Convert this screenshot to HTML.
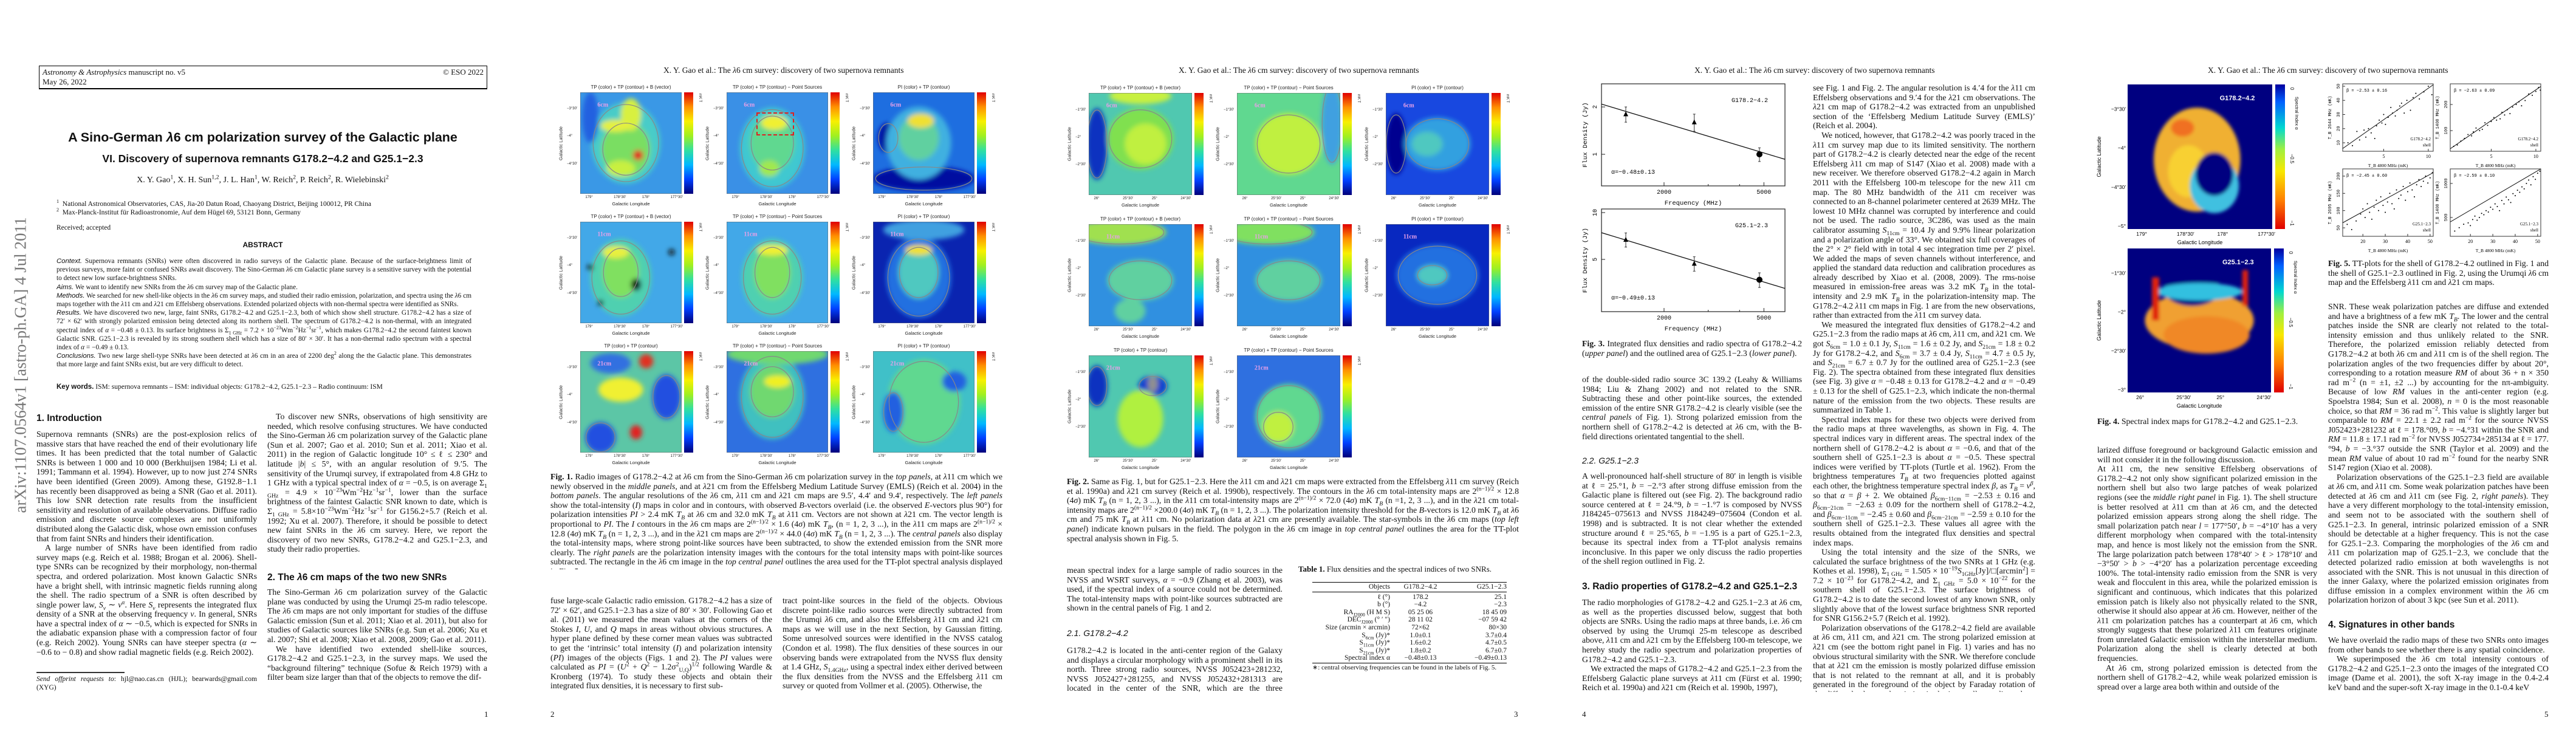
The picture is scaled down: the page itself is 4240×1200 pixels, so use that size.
<!DOCTYPE html>
<html><head><meta charset="utf-8">
<style>
*{margin:0;padding:0;box-sizing:border-box}
body{width:4240px;height:1200px;background:#fff;position:relative;overflow:hidden;font-family:"Liberation Serif",serif;color:#111}
.a{position:absolute}
.t{position:absolute;font-size:13.8px;line-height:15.6px;text-align:justify;overflow:hidden;hyphens:auto}
.t p{text-indent:0}
.t p+p{text-indent:14px}
.hdr{position:absolute;font-size:13.5px;white-space:nowrap}
.h1{position:absolute;font-family:"Liberation Sans",sans-serif;font-weight:bold;font-size:15.5px;white-space:nowrap}
.h2{position:absolute;font-family:"Liberation Sans",sans-serif;font-style:italic;font-size:14px;white-space:nowrap}
.pn{position:absolute;font-size:13px}
.sm{font-family:"Liberation Sans",sans-serif;font-size:8px;position:absolute;white-space:nowrap;color:#222}
.cap{position:absolute;font-size:13.8px;line-height:15.6px;text-align:justify;overflow:hidden}
.cb{position:absolute;background:linear-gradient(to top,#00007a,#0040ff,#00b8ff,#30e0a0,#a0f020,#f8f000,#ff9000,#e00000)}
i{font-style:italic}
sub,sup{font-size:70%;line-height:0}
</style></head><body>

<!-- ================= PAGE 1 ================= -->
<div class="a" style="left:0;top:0;width:860px;height:1200px">
<div class="a" style="left:34px;top:601px;transform:translate(-50%,-50%) rotate(-90deg);font-size:27px;color:#777;white-space:nowrap">arXiv:1107.0564v1 [astro-ph.GA] 4 Jul 2011</div>
<div class="a" style="left:64px;top:108px;width:738px;height:39px;border:1.5px solid #000;border-bottom-width:2.5px;font-size:13px;line-height:16px;padding:2px 5px">
<span><i>Astronomy &amp; Astrophysics</i> manuscript no. v5</span><span style="float:right">© ESO 2022</span><br>May 26, 2022</div>
<div class="a" style="left:60px;width:745px;top:214px;text-align:center;font-family:'Liberation Sans',sans-serif;font-weight:bold;font-size:21.5px;white-space:nowrap">A Sino-German <i>λ</i>6 cm polarization survey of the Galactic plane</div>
<div class="a" style="left:60px;width:745px;top:251px;text-align:center;font-family:'Liberation Sans',sans-serif;font-weight:bold;font-size:17.5px;white-space:nowrap">VI. Discovery of supernova remnants G178.2−4.2 and G25.1−2.3</div>
<div class="a" style="left:60px;width:745px;top:289px;text-align:center;font-size:14px;white-space:nowrap">X. Y. Gao<sup>1</sup>, X. H. Sun<sup>1,2</sup>, J. L. Han<sup>1</sup>, W. Reich<sup>2</sup>, P. Reich<sup>2</sup>, R. Wielebinski<sup>2</sup></div>
<div class="a" style="left:93px;top:329px;font-size:11.5px;line-height:14px;white-space:nowrap"><sup>1</sup>&nbsp; National Astronomical Observatories, CAS, Jia-20 Datun Road, Chaoyang District, Beijing 100012, PR China<br><sup>2</sup>&nbsp; Max-Planck-Institut für Radioastronomie, Auf dem Hügel 69, 53121 Bonn, Germany</div>
<div class="a" style="left:93px;top:369px;font-size:11.5px">Received; accepted</div>
<div class="a" style="left:60px;width:745px;top:396px;text-align:center;font-family:'Liberation Sans',sans-serif;font-weight:bold;font-size:12px">ABSTRACT</div>
<div class="t" style="left:93px;top:423px;width:683px;height:200px;font-size:11.3px;line-height:14.2px">
<div><i style="font-family:'Liberation Sans',sans-serif">Context.</i> Supernova remnants (SNRs) were often discovered in radio surveys of the Galactic plane. Because of the surface-brightness limit of previous surveys, more faint or confused SNRs await discovery. The Sino-German <i>λ</i>6 cm Galactic plane survey is a sensitive survey with the potential to detect new low surface-brightness SNRs.</div>
<div><i style="font-family:'Liberation Sans',sans-serif">Aims.</i> We want to identify new SNRs from the <i>λ</i>6 cm survey map of the Galactic plane.</div>
<div><i style="font-family:'Liberation Sans',sans-serif">Methods.</i> We searched for new shell-like objects in the <i>λ</i>6 cm survey maps, and studied their radio emission, polarization, and spectra using the <i>λ</i>6 cm maps together with the <i>λ</i>11 cm and <i>λ</i>21 cm Effelsberg observations. Extended polarized objects with non-thermal spectra were identified as SNRs.</div>
<div><i style="font-family:'Liberation Sans',sans-serif">Results.</i> We have discovered two new, large, faint SNRs, G178.2−4.2 and G25.1−2.3, both of which show shell structure. G178.2−4.2 has a size of 72′ × 62′ with strongly polarized emission being detected along its northern shell. The spectrum of G178.2−4.2 is non-thermal, with an integrated spectral index of <i>α</i> = −0.48 ± 0.13. Its surface brightness is Σ<sub>1 GHz</sub> = 7.2 × 10<sup>−23</sup>Wm<sup>−2</sup>Hz<sup>−1</sup>sr<sup>−1</sup>, which makes G178.2−4.2 the second faintest known Galactic SNR. G25.1−2.3 is revealed by its strong southern shell which has a size of 80′ × 30′. It has a non-thermal radio spectrum with a spectral index of <i>α</i> = −0.49 ± 0.13.</div>
<div><i style="font-family:'Liberation Sans',sans-serif">Conclusions.</i> Two new large shell-type SNRs have been detected at <i>λ</i>6 cm in an area of 2200 deg<sup>2</sup> along the the Galactic plane. This demonstrates that more large and faint SNRs exist, but are very difficult to detect.</div></div>
<div class="a" style="left:93px;top:631px;font-size:11.5px;white-space:nowrap"><b style="font-family:'Liberation Sans',sans-serif">Key words.</b> ISM: supernova remnants – ISM: individual objects: G178.2−4.2, G25.1−2.3 – Radio continuum: ISM</div>
<div class="h1" style="left:60px;top:680px">1. Introduction</div>
<div class="t" style="left:60px;top:707px;width:363px;height:391px">
<p>Supernova remnants (SNRs) are the post-explosion relics of massive stars that have reached the end of their evolutionary life times. It has been predicted that the total number of Galactic SNRs is between 1 000 and 10 000 (Berkhuijsen 1984; Li et al. 1991; Tammann et al. 1994). However, up to now just 274 SNRs have been identified (Green 2009). Among these, G192.8−1.1 has recently been disapproved as being a SNR (Gao et al. 2011). This low SNR detection rate results from the insufficient sensitivity and resolution of available observations. Diffuse radio emission and discrete source complexes are not uniformly distributed along the Galactic disk, whose own emission confuses that from faint SNRs and hinders their identification.</p>
<p>A large number of SNRs have been identified from radio survey maps (e.g. Reich et al. 1988; Brogan et al. 2006). Shell-type SNRs can be recognized by their morphology, non-thermal spectra, and ordered polarization. Most known Galactic SNRs have a bright shell, with intrinsic magnetic fields running along the shell. The radio spectrum of a SNR is often described by single power law, <i>S<sub>ν</sub></i> ∼ <i>ν<sup>α</sup></i>. Here <i>S<sub>ν</sub></i> represents the integrated flux density of a SNR at the observing frequency <i>ν</i>. In general, SNRs have a spectral index of <i>α</i> ∼ −0.5, which is expected for SNRs in the adiabatic expansion phase with a compression factor of four (e.g. Reich 2002). Young SNRs can have steeper spectra (<i>α</i> ∼ −0.6 to − 0.8) and show radial magnetic fields (e.g. Reich 2002).</p></div>
<div class="a" style="left:60px;top:1106px;width:145px;height:1.5px;background:#333"></div>
<div class="t" style="left:60px;top:1111px;width:363px;height:32px;font-size:11.5px;line-height:14px"><i>Send offprint requests to</i>: hjl@nao.cas.cn (HJL); bearwards@gmail.com (XYG)</div>
<div class="t" style="left:440px;top:678px;width:362px;height:250px">
<p style="text-indent:14px">To discover new SNRs, observations of high sensitivity are needed, which resolve confusing structures. We have conducted the Sino-German <i>λ</i>6 cm polarization survey of the Galactic plane (Sun et al. 2007; Gao et al. 2010; Sun et al. 2011; Xiao et al. 2011) in the region of Galactic longitude 10° ≤ ℓ ≤ 230° and latitude |<i>b</i>| ≤ 5°, with an angular resolution of 9.′5. The sensitivity of the Urumqi survey, if extrapolated from 4.8 GHz to 1 GHz with a typical spectral index of <i>α</i> = −0.5, is on average Σ<sub>1 GHz</sub> = 4.9 × 10<sup>−23</sup>Wm<sup>−2</sup>Hz<sup>−1</sup>sr<sup>−1</sup>, lower than the surface brightness of the faintest Galactic SNR known to date, which is Σ<sub>1 GHz</sub> = 5.8×10<sup>−23</sup>Wm<sup>−2</sup>Hz<sup>−1</sup>sr<sup>−1</sup> for G156.2+5.7 (Reich et al. 1992; Xu et al. 2007). Therefore, it should be possible to detect new faint SNRs in the <i>λ</i>6 cm survey. Here, we report the discovery of two new SNRs, G178.2−4.2 and G25.1−2.3, and study their radio properties.</p></div>
<div class="h1" style="left:440px;top:942px">2. The <i>λ</i>6 cm maps of the two new SNRs</div>
<div class="t" style="left:440px;top:967px;width:362px;height:172px">
<p>The Sino-German <i>λ</i>6 cm polarization survey of the Galactic plane was conducted by using the Urumqi 25-m radio telescope. The <i>λ</i>6 cm maps are not only important for studies of the diffuse Galactic emission (Sun et al. 2011; Xiao et al. 2011), but also for studies of Galactic sources like SNRs (e.g. Sun et al. 2006; Xu et al. 2007; Shi et al. 2008; Xiao et al. 2008, 2009; Gao et al. 2011).</p>
<p>We have identified two extended shell-like sources, G178.2−4.2 and G25.1−2.3, in the survey maps. We used the “background filtering” technique (Sofue &amp; Reich 1979) with a filter beam size larger than that of the objects to remove the dif-</p></div>
<div class="pn" style="left:797px;top:1168px">1</div>
</div>

<!-- ================= PAGE 2 ================= -->
<div class="hdr" style="left:1092px;top:108px">X. Y. Gao et al.: The <i>λ</i>6 cm survey: discovery of two supernova remnants</div>
<div class="cap" style="left:906px;top:777px;width:744px;height:160px"><b>Fig. 1.</b> Radio images of G178.2−4.2 at <i>λ</i>6 cm from the Sino-German <i>λ</i>6 cm polarization survey in the <i>top panels</i>, at <i>λ</i>11 cm which we newly observed in the <i>middle panels</i>, and at <i>λ</i>21 cm from the Effelsberg Medium Latitude Survey (EMLS) (Reich et al. 2004) in the <i>bottom panels</i>. The angular resolutions of the <i>λ</i>6 cm, <i>λ</i>11 cm and <i>λ</i>21 cm maps are 9.5′, 4.4′ and 9.4′, respectively. The <i>left panels</i> show the total-intensity (<i>I</i>) maps in color and in contours, with observed <i>B</i>-vectors overlaid (i.e. the observed <i>E</i>-vectors plus 90°) for polarization intensities <i>PI</i> &gt; 2.4 mK <i>T<sub>B</sub></i> at <i>λ</i>6 cm and 32.0 mK <i>T<sub>B</sub></i> at <i>λ</i>11 cm. Vectors are not shown at <i>λ</i>21 cm. The vector length is proportional to <i>PI</i>. The <i>I</i> contours in the <i>λ</i>6 cm maps are 2<sup>(n−1)/2</sup> × 1.6 (4<i>σ</i>) mK <i>T<sub>B</sub></i>, (n = 1, 2, 3 ...), in the <i>λ</i>11 cm maps are 2<sup>(n−1)/2</sup> × 12.8 (4<i>σ</i>) mK <i>T<sub>B</sub></i> (n = 1, 2, 3 ...), and in the <i>λ</i>21 cm maps are 2<sup>(n−1)/2</sup> × 44.0 (4<i>σ</i>) mK <i>T<sub>B</sub></i> (n = 1, 2, 3 ...). The <i>central panels</i> also display the total-intensity maps, where strong point-like sources have been subtracted, to show the extended emission from the SNR more clearly. The <i>right panels</i> are the polarization intensity images with the contours for the total intensity maps with point-like sources subtracted. The rectangle in the <i>λ</i>6 cm image in the <i>top central panel</i> outlines the area used for the TT-plot spectral analysis displayed in Fig. 5.</div>
<div class="t" style="left:906px;top:981px;width:365px;height:157px">fuse large-scale Galactic radio emission. G178.2−4.2 has a size of 72′ × 62′, and G25.1−2.3 has a size of 80′ × 30′. Following Gao et al. (2011) we measured the mean values at the corners of the Stokes <i>I</i>, <i>U</i>, and <i>Q</i> maps in areas without obvious structures. A hyper plane defined by these corner mean values was subtracted to get the ‘intrinsic’ total intensity (<i>I</i>) and polarization intensity (<i>PI</i>) images of the objects (Figs. 1 and 2). The <i>PI</i> values were calculated as <i>PI</i> = (<i>U</i><sup>2</sup> + <i>Q</i><sup>2</sup> − 1.2σ<sup>2</sup><sub>U,Q</sub>)<sup>1/2</sup> following Wardle &amp; Kronberg (1974). To study these objects and obtain their integrated flux densities, it is necessary to first sub-</div>
<div class="t" style="left:1288px;top:981px;width:362px;height:157px">tract point-like sources in the field of the objects. Obvious discrete point-like radio sources were directly subtracted from the Urumqi <i>λ</i>6 cm, and also the Effelsberg <i>λ</i>11 cm and <i>λ</i>21 cm maps as we will use in the next Section, by Gaussian fitting. Some unresolved sources were identified in the NVSS catalog (Condon et al. 1998). The flux densities of these sources in our observing bands were extrapolated from the NVSS flux density at 1.4 GHz, <i>S</i><sub>1.4GHz</sub>, using a spectral index either derived between the flux densities from the NVSS and the Effelsberg <i>λ</i>11 cm survey or quoted from Vollmer et al. (2005). Otherwise, the</div>
<div class="pn" style="left:906px;top:1168px">2</div>

<!-- ================= PAGE 3 ================= -->
<div class="hdr" style="left:1940px;top:108px">X. Y. Gao et al.: The <i>λ</i>6 cm survey: discovery of two supernova remnants</div>
<div class="cap" style="left:1756px;top:785px;width:744px;height:112px"><b>Fig. 2.</b> Same as Fig. 1, but for G25.1−2.3. Here the <i>λ</i>11 cm and <i>λ</i>21 cm maps were extracted from the Effelsberg <i>λ</i>11 cm survey (Reich et al. 1990a) and <i>λ</i>21 cm survey (Reich et al. 1990b), respectively. The contours in the <i>λ</i>6 cm total-intensity maps are 2<sup>(n−1)/2</sup> × 12.8 (4<i>σ</i>) mK <i>T<sub>B</sub></i> (n = 1, 2, 3 ...), in the <i>λ</i>11 cm total-intensity maps are 2<sup>(n−1)/2</sup> × 72.0 (4<i>σ</i>) mK <i>T<sub>B</sub></i> (n =1, 2, 3 ...), and in the <i>λ</i>21 cm total-intensity maps are 2<sup>(n−1)/2</sup> ×200.0 (4<i>σ</i>) mK <i>T<sub>B</sub></i> (n = 1, 2, 3 ...). The polarization intensity threshold for the <i>B</i>-vectors is 12.0 mK <i>T<sub>B</sub></i> at <i>λ</i>6 cm and 75 mK <i>T<sub>B</sub></i> at <i>λ</i>11 cm. No polarization data at <i>λ</i>21 cm are presently available. The star-symbols in the <i>λ</i>6 cm maps (<i>top left panel</i>) indicate known pulsars in the field. The polygon in the <i>λ</i>6 cm image in <i>top central panel</i> outlines the area for the TT-plot spectral analysis shown in Fig. 5.</div>
<div class="t" style="left:1756px;top:931px;width:355px;height:80px">mean spectral index for a large sample of radio sources in the NVSS and WSRT surveys, <i>α</i> = −0.9 (Zhang et al. 2003), was used, if the spectral index of a source could not be determined. The total-intensity maps with point-like sources subtracted are shown in the central panels of Fig. 1 and 2.</div>
<div class="h2" style="left:1756px;top:1034px">2.1. G178.2−4.2</div>
<div class="t" style="left:1756px;top:1063px;width:355px;height:78px">G178.2−4.2 is located in the anti-center region of the Galaxy and displays a circular morphology with a prominent shell in its north. Three strong radio sources, NVSS J052423+281232, NVSS J052427+281255, and NVSS J052432+281313 are located in the center of the SNR, which are the three components</div>
<div class="a" style="left:2137px;top:929px;font-size:13px;white-space:nowrap"><b>Table 1.</b> Flux densities and the spectral indices of two SNRs.</div>
<div class="a" style="left:2160px;top:958px;width:320px;font-size:11.5px;line-height:12.6px">
<div style="border-top:1.5px solid #000;border-bottom:1px solid #000;margin-bottom:2px;padding:1px 0">
<div style="display:flex"><span style="width:128px;text-align:right">Objects</span><span style="width:100px;text-align:center">G178.2−4.2</span><span style="width:92px;text-align:right">G25.1−2.3</span></div></div>
<div id="tbody"></div>
<div style="border-top:1.5px solid #000;margin-top:1px;font-size:11px;line-height:13px;padding-top:1px">∗: central observing frequencies can be found in the labels of Fig. 5.</div></div>
<div class="pn" style="left:2492px;top:1168px">3</div>

<!-- ================= PAGE 4 ================= -->
<div class="hdr" style="left:2789px;top:108px">X. Y. Gao et al.: The <i>λ</i>6 cm survey: discovery of two supernova remnants</div>
<svg class="a" id="fig3" style="left:2600px;top:125px" width="360" height="430"></svg>
<div class="cap" style="left:2604px;top:558px;width:362px;height:34px"><b>Fig. 3.</b> Integrated flux densities and radio spectra of G178.2−4.2 (<i>upper panel</i>) and the outlined area of G25.1−2.3 (<i>lower panel</i>).</div>
<div class="t" style="left:2604px;top:617px;width:362px;height:126px">of the double-sided radio source 3C 139.2 (Leahy &amp; Williams 1984; Liu &amp; Zhang 2002) and not related to the SNR. Subtracting these and other point-like sources, the extended emission of the entire SNR G178.2−4.2 is clearly visible (see the <i>central panels</i> of Fig. 1). Strong polarized emission from the northern shell of G178.2−4.2 is detected at <i>λ</i>6 cm, with the B-field directions orientated tangential to the shell.</div>
<div class="h2" style="left:2604px;top:750px">2.2. G25.1−2.3</div>
<div class="t" style="left:2604px;top:776px;width:362px;height:158px">A well-pronounced half-shell structure of 80′ in length is visible at ℓ = 25.°1, <i>b</i> = −2.°3 after strong diffuse emission from the Galactic plane is filtered out (see Fig. 2). The background radio source centered at ℓ = 24.°9, <i>b</i> = −1.°7 is composed by NVSS J184245−075613 and NVSS J184249−075604 (Condon et al. 1998) and is subtracted. It is not clear whether the extended structure around ℓ = 25.°65, <i>b</i> = −1.95 is a part of G25.1−2.3, because its spectral index from a TT-plot analysis remains inconclusive. In this paper we only discuss the radio properties of the shell region outlined in Fig. 2.</div>
<div class="h1" style="left:2604px;top:957px">3. Radio properties of G178.2−4.2 and G25.1−2.3</div>
<div class="t" style="left:2604px;top:984px;width:362px;height:156px"><p>The radio morphologies of G178.2−4.2 and G25.1−2.3 at <i>λ</i>6 cm, as well as the properties discussed below, suggest that both objects are SNRs. Using the radio maps at three bands, i.e. <i>λ</i>6 cm observed by using the Urumqi 25-m telescope as described above, <i>λ</i>11 cm and <i>λ</i>21 cm by the Effelsberg 100-m telescope, we hereby study the radio spectrum and polarization properties of G178.2−4.2 and G25.1−2.3.</p><p>We extracted the maps of G178.2−4.2 and G25.1−2.3 from the Effelsberg Galactic plane surveys at <i>λ</i>11 cm (Fürst et al. 1990; Reich et al. 1990a) and <i>λ</i>21 cm (Reich et al. 1990b, 1997),</p></div>
<div class="t" style="left:2984px;top:137px;width:366px;height:1002px">
<p>see Fig. 1 and Fig. 2. The angular resolution is 4.′4 for the <i>λ</i>11 cm Effelsberg observations and 9.′4 for the <i>λ</i>21 cm observations. The <i>λ</i>21 cm map of G178.2−4.2 was extracted from an unpublished section of the ‘Effelsberg Medium Latitude Survey (EMLS)’ (Reich et al. 2004).</p>
<p>We noticed, however, that G178.2−4.2 was poorly traced in the <i>λ</i>11 cm survey map due to its limited sensitivity. The northern part of G178.2−4.2 is clearly detected near the edge of the recent Effelsberg <i>λ</i>11 cm map of S147 (Xiao et al. 2008) made with a new receiver. We therefore observed G178.2−4.2 again in March 2011 with the Effelsberg 100-m telescope for the new <i>λ</i>11 cm map. The 80 MHz bandwidth of the <i>λ</i>11 cm receiver was connected to an 8-channel polarimeter centered at 2639 MHz. The lowest 10 MHz channel was corrupted by interference and could not be used. The radio source, 3C286, was used as the main calibrator assuming <i>S</i><sub>11cm</sub> = 10.4 Jy and 9.9% linear polarization and a polarization angle of 33°. We obtained six full coverages of the 2° × 2° field with in total 4 sec integration time per 2′ pixel. We added the maps of seven channels without interference, and applied the standard data reduction and calibration procedures as already described by Xiao et al. (2008, 2009). The rms-noise measured in emission-free areas was 3.2 mK <i>T<sub>B</sub></i> in the total-intensity and 2.9 mK <i>T<sub>B</sub></i> in the polarization-intensity map. The G178.2−4.2 <i>λ</i>11 cm maps in Fig. 1 are from the new observations, rather than extracted from the <i>λ</i>11 cm survey data.</p>
<p>We measured the integrated flux densities of G178.2−4.2 and G25.1−2.3 from the radio maps at <i>λ</i>6 cm, <i>λ</i>11 cm, and <i>λ</i>21 cm. We got <i>S</i><sub>6cm</sub> = 1.0 ± 0.1 Jy, <i>S</i><sub>11cm</sub> = 1.6 ± 0.2 Jy, and <i>S</i><sub>21cm</sub> = 1.8 ± 0.2 Jy for G178.2−4.2, and <i>S</i><sub>6cm</sub> = 3.7 ± 0.4 Jy, <i>S</i><sub>11cm</sub> = 4.7 ± 0.5 Jy, and <i>S</i><sub>21cm</sub> = 6.7 ± 0.7 Jy for the outlined area of G25.1−2.3 (see Fig. 2). The spectra obtained from these integrated flux densities (see Fig. 3) give <i>α</i> = −0.48 ± 0.13 for G178.2−4.2 and <i>α</i> = −0.49 ± 0.13 for the shell of G25.1−2.3, which indicate the non-thermal nature of the emission from the two objects. These results are summarized in Table 1.</p>
<p>Spectral index maps for these two objects were derived from the radio maps at three wavelengths, as shown in Fig. 4. The spectral indices vary in different areas. The spectral index of the northern shell of G178.2−4.2 is about <i>α</i> = −0.6, and that of the southern shell of G25.1−2.3 is about <i>α</i> = −0.5. These spectral indices were verified by TT-plots (Turtle et al. 1962). From the brightness temperatures <i>T<sub>B</sub></i> at two frequencies plotted against each other, the brightness temperature spectral index <i>β</i>, as <i>T<sub>B</sub></i> = <i>ν<sup>β</sup></i>, so that <i>α</i> = <i>β</i> + 2. We obtained <i>β</i><sub>6cm−11cm</sub> = −2.53 ± 0.16 and <i>β</i><sub>6cm−21cm</sub> = −2.63 ± 0.09 for the northern shell of G178.2−4.2, and <i>β</i><sub>6cm−11cm</sub> = −2.45 ± 0.60 and <i>β</i><sub>6cm−21cm</sub> = −2.59 ± 0.10 for the southern shell of G25.1−2.3. These values all agree with the results obtained from the integrated flux densities and spectral index maps.</p>
<p>Using the total intensity and the size of the SNRs, we calculated the surface brightness of the two SNRs at 1 GHz (e.g. Kothes et al. 1998), Σ<sub>1 GHz</sub> = 1.505 × 10<sup>−19</sup><i>S</i><sub>1GHz</sub>[Jy]/□[arcmin<sup>2</sup>] = 7.2 × 10<sup>−23</sup> for G178.2−4.2, and Σ<sub>1 GHz</sub> = 5.0 × 10<sup>−22</sup> for the southern shell of G25.1−2.3. The surface brightness of G178.2−4.2 is to date the second lowest of any known SNR, only slightly above that of the lowest surface brightness SNR reported for SNR G156.2+5.7 (Reich et al. 1992).</p>
<p>Polarization observations of the G178.2−4.2 field are available at <i>λ</i>6 cm, <i>λ</i>11 cm, and <i>λ</i>21 cm. The strong polarized emission at <i>λ</i>21 cm (see the bottom right panel in Fig. 1) varies and has no obvious structural similarity with the SNR. We therefore conclude that at <i>λ</i>21 cm the emission is mostly polarized diffuse emission that is not related to the remnant at all, and it is probably generated in the foreground of the object by Faraday rotation of the diffuse background emission in the interstellar medium along the line of sight towards the anti-center region of the Galaxy.</p></div>
<div class="pn" style="left:2604px;top:1168px">4</div>

<!-- ================= PAGE 5 ================= -->
<div class="hdr" style="left:3634px;top:108px">X. Y. Gao et al.: The <i>λ</i>6 cm survey: discovery of two supernova remnants</div>
<svg class="a" id="fig4" style="left:3440px;top:125px" width="380" height="560"></svg>
<div class="cap" style="left:3452px;top:686px;width:380px;height:18px;white-space:nowrap"><b>Fig. 4.</b> Spectral index maps for G178.2−4.2 and G25.1−2.3.</div>
<svg class="a" id="fig5" style="left:3820px;top:128px" width="380" height="290"></svg>
<div class="cap" style="left:3832px;top:426px;width:363px;height:50px"><b>Fig. 5.</b> TT-plots for the shell of G178.2−4.2 outlined in Fig. 1 and the shell of G25.1−2.3 outlined in Fig. 2, using the Urumqi <i>λ</i>6 cm map and the Effelsberg <i>λ</i>11 cm and <i>λ</i>21 cm maps.</div>
<div class="t" style="left:3832px;top:497px;width:363px;height:505px">
<p>SNR. These weak polarization patches are diffuse and extended and have a brightness of a few mK <i>T<sub>B</sub></i>. The lower and the central patches inside the SNR are clearly not related to the total-intensity emission and thus unlikely related to the SNR. Therefore, the polarized emission reliably detected from G178.2−4.2 at both <i>λ</i>6 cm and <i>λ</i>11 cm is of the shell region. The polarization angles of the two frequencies differ by about 20°, corresponding to a rotation measure <i>RM</i> of about 36 + n × 350 rad m<sup>−2</sup> (n = ±1, ±2 ...) by accounting for the nπ-ambiguity. Because of low <i>RM</i> values in the anti-center region (e.g. Spoelstra 1984; Sun et al. 2008), <i>n</i> = 0 is the most reasonable choice, so that <i>RM</i> = 36 rad m<sup>−2</sup>. This value is slightly larger but comparable to <i>RM</i> = 22.1 ± 2.2 rad m<sup>−2</sup> for the source NVSS J052423+281232 at ℓ = 178.°09, <i>b</i> = −4.°31 within the SNR and <i>RM</i> = 11.8 ± 17.1 rad m<sup>−2</sup> for NVSS J052734+285134 at ℓ = 177.°94, <i>b</i> = −3.°37 outside the SNR (Taylor et al. 2009) and the mean <i>RM</i> value of about 10 rad m<sup>−2</sup> found for the nearby SNR S147 region (Xiao et al. 2008).</p>
<p>Polarization observations of the G25.1−2.3 field are available at <i>λ</i>6 cm, and <i>λ</i>11 cm. Some weak polarization patches have been detected at <i>λ</i>6 cm and <i>λ</i>11 cm (see Fig. 2, <i>right panels</i>). They have a very different morphology to the total-intensity emission, and seem not to be associated with the southern shell of G25.1−2.3. In general, intrinsic polarized emission of a SNR should be detectable at a higher frequency. This is not the case for G25.1−2.3. Comparing the morphologies of the <i>λ</i>6 cm and <i>λ</i>11 cm polarization map of G25.1−2.3, we conclude that the detected polarized radio emission at both wavelengths is not associated with the SNR. This is not unusual in this direction of the inner Galaxy, where the polarized emission originates from diffuse emission in a complex environment within the <i>λ</i>6 cm polarization horizon of about 3 kpc (see Sun et al. 2011).</p></div>
<div class="h1" style="left:3832px;top:1020px">4. Signatures in other bands</div>
<div class="t" style="left:3832px;top:1046px;width:363px;height:95px"><p>We have overlaid the radio maps of these two SNRs onto images from other bands to see whether there is any spatial coincidence.</p><p>We superimposed the <i>λ</i>6 cm total intensity contours of G178.2−4.2 and G25.1−2.3 onto the images of the integrated CO image (Dame et al. 2001), the soft X-ray image in the 0.4-2.4 keV band and the super-soft X-ray image in the 0.1-0.4 keV</p></div>
<div class="t" style="left:3452px;top:733px;width:362px;height:408px">larized diffuse foreground or background Galactic emission and will not consider it in the following discussion.
<p>At <i>λ</i>11 cm, the new sensitive Effelsberg observations of G178.2−4.2 not only show significant polarized emission in the northern shell but also two large patches of weak polarized regions (see the <i>middle right panel</i> in Fig. 1). The shell structure is better resolved at <i>λ</i>11 cm than at <i>λ</i>6 cm, and the detected polarized emission appears strong along the shell ridge. The small polarization patch near <i>l</i> = 177°50′, <i>b</i> = −4°10′ has a very different morphology when compared with the total-intensity map, and hence is most likely not the emission from the SNR. The large polarization patch between 178°40′ &gt; ℓ &gt; 178°10′ and −3°50′ &gt; <i>b</i> &gt; −4°20′ has a polarization percentage exceeding 100%. The total-intensity radio emission from the SNR is very weak and flocculent in this area, while the polarized emission is significant and continuous, which indicates that this polarized emission patch is likely also not physically related to the SNR, otherwise it should also appear at <i>λ</i>6 cm. However, neither of the <i>λ</i>11 cm polarization patches has a counterpart at <i>λ</i>6 cm, which strongly suggests that these polarized <i>λ</i>11 cm features originate from unrelated Galactic emission within the interstellar medium. Polarization along the shell is clearly detected at both frequencies.</p>
<p>At <i>λ</i>6 cm, strong polarized emission is detected from the northern shell of G178.2−4.2, while weak polarized emission is spread over a large area both within and outside of the</p></div>
<div class="pn" style="left:4188px;top:1168px">5</div>

<div id="maps"></div>

<script>
const NS='http://www.w3.org/2000/svg';
function el(tag,attrs,parent){const e=document.createElementNS(NS,tag);for(const k in attrs)e.setAttribute(k,attrs[k]);if(parent)parent.appendChild(e);return e;}

/* ---------- Table 1 ---------- */
const tabLabels=['ℓ (°)','b (°)','RA<sub>J2000</sub> (H M S)','DEC<sub>J2000</sub> (° ′ ″)','Size (arcmin × arcmin)','S<sub>6cm</sub> (Jy)*','S<sub>11cm</sub> (Jy)*','S<sub>21cm</sub> (Jy)*','Spectral index α'];
const tabG178=['178.2','−4.2','05 25 06','28 11 02','72×62','1.0±0.1','1.6±0.2','1.8±0.2','−0.48±0.13'];
const tabG25=['25.1','−2.3','18 45 09','−07 59 42','80×30','3.7±0.4','4.7±0.5','6.7±0.7','−0.49±0.13'];
const tb=document.getElementById('tbody');
tabLabels.forEach((l,i)=>{const r=document.createElement('div');r.style.display='flex';


r.innerHTML='<span style="width:128px;text-align:right">'+l+'</span><span style="width:100px;text-align:center">'+tabG178[i]+'</span><span style="width:92px;text-align:right">'+tabG25[i]+'</span>';tb.appendChild(r);});

/* ---------- Radio map panels (Fig 1, Fig 2) ---------- */
const fig1Titles=['TP (color) + TP (contour) + B (vector)','TP (color) + TP (contour) − Point Sources','PI (color) + TP (contour)'];
const fig1Bands=['6cm','11cm','21cm'];
const fig1Bg=[['#3a98e6','#3a90e6','#1e6ee0'],['#42a8e8','#42a8e8','#0a24b0'],['#5cc6a6','#2f70e0','#40c0c8']];
const fig1Blobs=[
[[[.45,.5,.34,.4,'#48ccc8'],[.45,.56,.24,.27,'#7ade62'],[.5,.22,.1,.16,'#d8f040'],[.35,.33,.15,.06,'#e4f040'],[.4,.75,.14,.08,'#c8f040'],[.57,.62,.05,.05,'#e02020'],[.1,.25,.08,.25,'#2060e0']],
 [[.45,.55,.32,.4,'#40c8d0'],[.45,.5,.22,.28,'#60d890'],[.47,.3,.13,.07,'#f0f030'],[.42,.75,.1,.08,'#a0e850']],
 [[.5,.85,.5,.12,'#0010a0'],[.15,.45,.1,.15,'#0010a0'],[.45,.5,.32,.36,'#40b0e0'],[.45,.45,.2,.22,'#60d0a0'],[.47,.28,.13,.07,'#f0e030']]],
[[[.4,.55,.3,.38,'#50d0b0'],[.4,.5,.18,.25,'#80e060'],[.35,.3,.13,.06,'#e8f040'],[.55,.62,.05,.06,'#111'],[.1,.45,.03,.03,'#111'],[.9,.3,.03,.03,'#111'],[.2,.8,.03,.03,'#111']],
 [[.45,.55,.3,.38,'#50d0b0'],[.45,.5,.18,.26,'#80e060'],[.45,.28,.15,.05,'#f0f030']],
 [[.45,.55,.32,.4,'#2070e0'],[.45,.5,.2,.26,'#50c8c0'],[.45,.28,.13,.05,'#f0e030'],[.5,.08,.4,.1,'#40a0e0']]],
[[[.2,.85,.15,.15,'#2050e0'],[.85,.45,.14,.22,'#2050e0'],[.3,.12,.2,.1,'#3070e0'],[.4,.38,.22,.12,'#f0f030'],[.55,.8,.06,.07,'#e02020'],[.65,.1,.07,.07,'#e03020']],
 [[.45,.45,.32,.42,'#40c0c0'],[.45,.4,.22,.26,'#70d870'],[.5,.3,.13,.06,'#f0f020'],[.5,.03,.5,.1,'#70d870']],
 [[.5,.5,.36,.42,'#60d890'],[.2,.6,.1,.2,'#2060e0'],[.8,.3,.12,.1,'#2060e0']]]];
const fig2Bg=[['#50c8b0','#60d890','#1848e0'],['#3090e0','#3090e0','#0828c0'],['#50c8b0','#2f70e0']];
const fig2Blobs=[
[[[.08,.5,.1,.35,'#1030c0'],[.5,.45,.32,.3,'#80e050'],[.55,.5,.2,.2,'#c0f040'],[.5,.03,.3,.08,'#c8f040']],
 [[.5,.5,.32,.3,'#c0f040'],[.92,.3,.1,.4,'#40a0e0']],
 [[.1,.5,.1,.3,'#000090'],[.5,.5,.32,.26,'#30a0e0'],[.4,.5,.15,.12,'#50c8c0']]],
[[[.3,.08,.45,.12,'#a0e050'],[.5,.55,.32,.2,'#60d0a0'],[.4,.85,.15,.12,'#60d0a0']],
 [[.5,.55,.32,.2,'#60d0a0'],[.3,.08,.45,.12,'#80e060']],
 [[.5,.5,.4,.3,'#2070e0'],[.45,.5,.15,.1,'#50c8c0']]],
[[[.08,.3,.1,.2,'#1030c0'],[.62,.3,.14,.1,'#1040d0'],[.5,.62,.22,.28,'#b0f040'],[.62,.28,.05,.08,'#909090']],
 [[.5,.6,.32,.32,'#60d890'],[.4,.7,.15,.15,'#c0f040']]]];
const figCols1=[955,1196,1437], figRows1=[152,365,578];
const figCols2=[1792,2036,2281], figRows2=[153,369,585];
let mapId=0;
function mapPanel(x,y,w,h,bg,blobs,title,band,lon,lat){
  const host=document.getElementById('maps');
  const t=document.createElement('div');t.className='sm';t.style.left=x+'px';t.style.width=w+'px';t.style.textAlign='center';t.style.top=(y-13)+'px';t.textContent=title;
  
  
  host.appendChild(t);
  const s=el('svg',{width:w,height:h});s.style.position='absolute';s.style.left=x+'px';s.style.top=y+'px';
  
  
  const id='bl'+(mapId++);
  const f=el('filter',{id:id,x:'-50%',y:'-50%',width:'200%',height:'200%'},el('defs',{},s));el('feGaussianBlur',{stdDeviation:4},f);
  el('rect',{width:w,height:h,fill:bg},s);
  const g=el('g',{filter:'url(#'+id+')'},s);
  blobs.forEach(b=>el('ellipse',{cx:b[0]*w,cy:b[1]*h,rx:b[2]*w,ry:b[3]*h,fill:b[4]},g));
  blobs.slice(0,2).forEach(b=>{el('ellipse',{cx:b[0]*w,cy:b[1]*h,rx:b[2]*w*.95,ry:b[3]*h*.95,fill:'none',stroke:'#888',"stroke-width":1.2},s);});
  el('rect',{width:w,height:h,fill:'none',stroke:'#666',"stroke-width":1},s);
  const bt=el('text',{x:w*.17,y:h*.14,fill:'#e8a0e8',"font-size":10,"font-family":"Liberation Serif, serif","font-weight":"bold"},s);bt.textContent=band;
  host.appendChild(s);
  const cb=document.createElement('div');cb.className='cb';cb.style.left=(x+w+4)+'px';cb.style.top=y+'px';cb.style.width='15px';cb.style.height=h+'px';
  
  
  host.appendChild(cb);
  const u=document.createElement('div');u.className='sm';u.style.top=(y+2)+'px';u.style.fontSize='6px';u.textContent='mK T';
  u.style.transform='rotate(90deg)';u.style.transformOrigin='left top';u.style.left=(x+w+33)+'px';
  
  
  host.appendChild(u);
  const yl=document.createElement('div');yl.className='sm';yl.textContent='Galactic Latitude';yl.style.fontSize='7.5px';
  yl.style.left=(x-32)+'px';yl.style.top=(y+h/2)+'px';yl.style.transform='translate(-50%,-50%) rotate(-90deg)';
  
  
  host.appendChild(yl);
  lat.forEach((v,i)=>{const d=document.createElement('div');d.className='sm';d.style.fontSize='6px';d.textContent=v;d.style.left=(x-22)+'px';d.style.top=(y+h*(0.17+0.27*i)-4)+'px';
    
    
    host.appendChild(d);});
  lon.forEach((v,i)=>{const d=document.createElement('div');d.className='sm';d.style.fontSize='6px';d.textContent=v;d.style.left=(x+w*(0.05+0.28*i))+'px';d.style.top=(y+h+3)+'px';
    
    
    host.appendChild(d);});
  const xl=document.createElement('div');xl.className='sm';xl.style.fontSize='7.5px';xl.textContent='Galactic Longitude';xl.style.left=x+'px';xl.style.width=w+'px';xl.style.textAlign='center';xl.style.top=(y+h+12)+'px';
  
  
  host.appendChild(xl);
}
const lon1=['179°','178°30′','178°','177°30′'], lat1=['−3°30′','−4°','−4°30′'];
const lon2=['26°','25°30′','25°','24°30′'], lat2=['−1°30′','−2°','−2°30′'];
for(let r=0;r<3;r++)for(let c=0;c<3;c++){
  const t=(r==2&&c==0)?'TP (color) + TP (contour)':fig1Titles[c];
  mapPanel(figCols1[c],figRows1[r],167,167,fig1Bg[r][c],fig1Blobs[r][c],t,fig1Bands[r],lon1,lat1);
}
for(let r=0;r<3;r++)for(let c=0;c<(r==2?2:3);c++){
  const t=(r==2&&c==0)?'TP (color) + TP (contour)':fig1Titles[c];
  mapPanel(figCols2[c],figRows2[r],170,168,fig2Bg[r][c],fig2Blobs[r][c],t,fig1Bands[r],lon2,lat2);
}
(function(){const d=document.createElement('div');d.className='a';d.style.cssText='left:1245px;top:185px;width:62px;height:38px;border:2px dashed #e02020';


document.getElementById('maps').appendChild(d);})();

/* ---------- Fig 3: spectra ---------- */
const specFreq=[1408,2639,4800];
const specG178=[1.8,1.6,1.0];
const errG178=[0.2,0.2,0.1];
const specG25=[6.7,4.7,3.7];
const errG25=[0.7,0.5,0.4];
const specAlpha=[-0.48,-0.49];
const specS0=[1.04,3.65];
const specLabels=['G178.2−4.2','G25.1−2.3'];
const specAlphaText=['α=−0.48±0.13','α=−0.49±0.13'];
const freqTicks=[2000,5000];
const fluxTicksTop=[1,2];
const fluxTicksBot=[5,10];
(function(){
  const s=document.getElementById('fig3');const ox=2600,oy=125;
  const fx=f=>(2676-ox)+(Math.log10(f)-Math.log10(1408))*413;
  const panels=[{top:138,bot:306,ref:1,refY:254,ppd:259,vals:specG178,err:errG178,ticks:fluxTicksTop},
                {top:344,bot:513,ref:5,refY:427,ppd:256,vals:specG25,err:errG25,ticks:fluxTicksBot}];
  panels.forEach((p,k)=>{
    const fy=v=>(p.refY-oy)-(Math.log10(v)-Math.log10(p.ref))*p.ppd;
    const L=2636-ox,R=2938-ox,T=p.top-oy,B=p.bot-oy;
    el('rect',{x:L,y:T,width:R-L,height:B-T,fill:'none',stroke:'#222',"stroke-width":1.2},s);
    const cp='c3'+k;el('rect',{x:L,y:T,width:R-L,height:B-T},el('clipPath',{id:cp},s));
    const fmin=1127,fmax=6067;
    const ln=el('line',{x1:fx(fmin),y1:fy(specS0[k]*Math.pow(fmin/4800,specAlpha[k])),x2:fx(fmax),y2:fy(specS0[k]*Math.pow(fmax/4800,specAlpha[k])),stroke:'#111',"stroke-width":1.3,"clip-path":'url(#'+cp+')'},s);
    
    freqTicks.forEach(f=>{el('line',{x1:fx(f),x2:fx(f),y1:B,y2:B-6,stroke:'#222'},s);const t=el('text',{x:fx(f),y:B+13,"text-anchor":'middle',"font-size":10,"font-family":'Liberation Mono, monospace'},s);t.textContent=f;});
    [3000,4000].forEach(f=>el('line',{x1:fx(f),x2:fx(f),y1:B,y2:B-3,stroke:'#222'},s));
    p.ticks.forEach(v=>{el('line',{x1:L,x2:L+6,y1:fy(v),y2:fy(v),stroke:'#222'},s);const t=el('text',{x:L-8,y:fy(v),"text-anchor":'middle',"font-size":10,"font-family":'Liberation Mono, monospace',transform:'rotate(-90 '+(L-8)+' '+fy(v)+')'},s);t.textContent=v;});
    const xt=el('text',{x:(L+R)/2,y:B+31,"text-anchor":'middle',"font-size":10.5,"font-family":'Liberation Mono, monospace'},s);xt.textContent='Frequency (MHz)';
    const yt=el('text',{x:12,y:(T+B)/2,"text-anchor":'middle',"font-size":10.5,"font-family":'Liberation Mono, monospace',transform:'rotate(-90 12 '+((T+B)/2)+')'},s);yt.textContent='Flux Density (Jy)';
    const lb=el('text',{x:R-28,y:T+30,"text-anchor":'end',"font-size":10,"font-family":'Liberation Mono, monospace'},s);lb.textContent=specLabels[k];
    const al=el('text',{x:L+16,y:B-20,"font-size":10,"font-family":'Liberation Mono, monospace'},s);al.textContent=specAlphaText[k];
    specFreq.forEach((f,i)=>{
      const x=fx(f),y=fy(p.vals[i]);
      el('line',{x1:x,x2:x,y1:fy(p.vals[i]+p.err[i]),y2:fy(p.vals[i]-p.err[i]),stroke:'#333'},s);
      el('line',{x1:x-2,x2:x+2,y1:fy(p.vals[i]+p.err[i]),y2:fy(p.vals[i]+p.err[i]),stroke:'#333'},s);
      el('line',{x1:x-2,x2:x+2,y1:fy(p.vals[i]-p.err[i]),y2:fy(p.vals[i]-p.err[i]),stroke:'#333'},s);
      let m;
      if(i<2){m=el('polygon',{points:(x-4)+','+(y+3.5)+' '+(x+4)+','+(y+3.5)+' '+x+','+(y-4.5),fill:'#000'},s);}
      else{m=el('circle',{cx:x,cy:y,r:5,fill:'#000'},s);}
      
    });
  });
})();

/* ---------- Fig 5: TT plots ---------- */
const tt1x=[1,1.5,2,2.3,2.8,3,3.3,3.6,4,4.2,4.5,4.8,5,5.2,5.5,5.8,6,6.3,6.5,6.8,7,7.3,7.6,8,8.3,8.6,9,9.5,10,10.4];
const tt1y=[10,8,18,12,19,14,20,17,13,22,26,24,30,23,28,35,31,29,33,36,38,31,40,33,42,45,41,46,50,44];
const tt2x=[0.8,1.2,1.6,2,2.4,2.8,3,3.3,3.7,4,4.3,4.6,5,5.3,5.6,6,6.2,6.5,6.8,7.1,7.4,7.8,8.1,8.4,8.8,9.2,9.6,10,10.3,10.5];
const tt2y=[40,45,60,70,85,80,95,110,100,105,130,120,135,150,140,145,170,160,180,165,190,200,210,195,215,240,235,250,265,255];
const tt3x=[13,15,17,19,20,21,22,23,24,25,26,27,28,29,30,31,32,33,34,35,36,37,38,39,40,41,42,43,44,45,46,47,48,49,50,51];
const tt3y=[60,45,70,90,105,80,120,95,75,110,130,100,140,115,95,125,150,120,105,160,135,145,170,130,155,180,160,140,175,190,170,185,200,180,195,210];
const tt4x=[13,15,17,19,20,21,22,23,24,25,26,27,28,29,30,31,32,33,34,35,36,37,38,39,40,41,42,43,44,45,46,47,48,49,50,51];
const tt4y=[300,350,400,420,380,470,520,460,500,560,540,600,580,650,620,700,660,600,750,700,800,760,720,850,820,900,870,950,920,1000,1050,980,1100,1060,1150,1180];
const ttFits=[[4.1,4.45],[21,23.5],[25,3.6],[222,19.3]];
const ttBeta=['β = −2.53 ± 0.16','β = −2.63 ± 0.09','β = −2.45 ± 0.60','β = −2.59 ± 0.10'];
const ttName=['G178.2−4.2','G178.2−4.2','G25.1−2.3','G25.1−2.3'];
const ttYlab=['2644','1408','2695','1408'];
const ttXTicks=[[5,10],[5,10],[20,30,40,50],[20,30,40,50]];
const ttYTicks=[[10,20,30,40,50],[100,200],[50,100,150,200],[500,1000]];
const ttXRange=[[0.41,10.55],[0.41,10.55],[11,51.4],[11,51.4]];
const ttYRange=[[4,51.7],[21,279],[25.4,221],[223,1214]];
(function(){
  const s=document.getElementById('fig5');const ox=3820,oy=128;
  const boxes=[[3856,138],[4033,138],[3856,278],[4033,278]];
  const xs=[tt1x,tt2x,tt3x,tt4x],ys=[tt1y,tt2y,tt3y,tt4y];
  boxes.forEach((b,k)=>{
    const L=b[0]-ox,T=b[1]-oy,W=149,H=111;
    const X=v=>L+(v-ttXRange[k][0])/(ttXRange[k][1]-ttXRange[k][0])*W;
    const Y=v=>T+H-(v-ttYRange[k][0])/(ttYRange[k][1]-ttYRange[k][0])*H;
    el('rect',{x:L,y:T,width:W,height:H,fill:'none',stroke:'#333',"stroke-width":1},s);
    const cp='c5'+k;el('rect',{x:L,y:T,width:W,height:H},el('clipPath',{id:cp},s));
    const x0=ttXRange[k][0],x1=ttXRange[k][1];
    const fl=el('line',{x1:X(x0),y1:Y(ttFits[k][0]+ttFits[k][1]*x0),x2:X(x1),y2:Y(ttFits[k][0]+ttFits[k][1]*x1),stroke:'#111',"stroke-width":1,"clip-path":'url(#'+cp+')'},s);
    
    xs[k].forEach((v,i)=>{const c=el('circle',{cx:X(v),cy:Y(ys[k][i]),r:1,fill:'#000'},s);});
    ttXTicks[k].forEach(v=>{el('line',{x1:X(v),x2:X(v),y1:T+H,y2:T+H-4,stroke:'#333'},s);const t=el('text',{x:X(v),y:T+H+11,"text-anchor":'middle',"font-size":8,"font-family":'Liberation Serif, serif'},s);t.textContent=v;});
    ttYTicks[k].forEach(v=>{el('line',{x1:L,x2:L+4,y1:Y(v),y2:Y(v),stroke:'#333'},s);const t=el('text',{x:L-5,y:Y(v),"text-anchor":'middle',"font-size":7,"font-family":'Liberation Mono, monospace',transform:'rotate(-90 '+(L-5)+' '+Y(v)+')'},s);t.textContent=v;});
    const bt=el('text',{x:L+6,y:T+13,"font-size":7,"font-family":'Liberation Mono, monospace'},s);bt.textContent=ttBeta[k];
    const nm=el('text',{x:L+W-4,y:T+H-18,"text-anchor":'end',"font-size":7,"font-family":'Liberation Serif, serif'},s);nm.textContent=ttName[k];
    const sh=el('text',{x:L+W-4,y:T+H-8,"text-anchor":'end',"font-size":7,"font-family":'Liberation Serif, serif'},s);sh.textContent='shell';
    const xl=el('text',{x:L+W/2,y:T+H+26,"text-anchor":'middle',"font-size":7.5,"font-family":'Liberation Serif, serif'},s);xl.textContent='T_B 4800 MHz (mK)';
    const yl=el('text',{x:L-19,y:T+H/2,"text-anchor":'middle',"font-size":7,"font-family":'Liberation Mono, monospace',transform:'rotate(-90 '+(L-19)+' '+(T+H/2)+')'},s);yl.textContent='T_B '+ttYlab[k]+' MHz (mK)';
  });
})();

/* ---------- Fig 4: spectral index maps ---------- */
const siLabels=['G178.2−4.2','G25.1−2.3'];
const siTicks=['0','−0.5','−1'];
(function(){
  const s=document.getElementById('fig4');const ox=3440,oy=125;
  const defs=el('defs',{},s);
  const lg=el('linearGradient',{id:'sig',x1:0,y1:0,x2:0,y2:1},defs);
  [['0','#0000a0'],['.12','#0060ff'],['.3','#00d8d0'],['.45','#a0f040'],['.6','#f8e800'],['.8','#ff8000'],['1','#e00000']].forEach(c=>el('stop',{offset:c[0],"stop-color":c[1]},lg));
  const f=el('filter',{id:'sib'},defs);el('feGaussianBlur',{stdDeviation:3},f);
  const panels=[[3502,139,238,238],[3502,409,236,237]];
  panels.forEach((p,k)=>{
    const L=p[0]-ox,T=p[1]-oy,W=p[2],H=p[3];
    el('rect',{x:L,y:T,width:W,height:H,fill:'#000080'},s);
    const g=el('g',{filter:'url(#sib)'},s);
    if(k==0){
      el('ellipse',{cx:L+W*.48,cy:T+H*.52,rx:W*.3,ry:H*.36,fill:'#f0b030'},g);
      el('ellipse',{cx:L+W*.38,cy:T+H*.3,rx:W*.08,ry:H*.06,fill:'#f07020'},g);
      el('ellipse',{cx:L+W*.42,cy:T+H*.6,rx:W*.14,ry:H*.18,fill:'#f8d030'},g);
      el('ellipse',{cx:L+W*.6,cy:T+H*.7,rx:W*.17,ry:H*.19,fill:'#40c0e0'},g);
      el('ellipse',{cx:L+W*.6,cy:T+H*.62,rx:W*.13,ry:H*.15,fill:'#000080'},g);
    }else{
      el('ellipse',{cx:L+W*.5,cy:T+H*.5,rx:W*.38,ry:H*.2,fill:'#f0a030'},g);
      el('ellipse',{cx:L+W*.55,cy:T+H*.6,rx:W*.3,ry:H*.13,fill:'#f08828'},g);
      el('ellipse',{cx:L+W*.45,cy:T+H*.28,rx:W*.2,ry:H*.12,fill:'#000080'},g);
      el('ellipse',{cx:L+W*.5,cy:T+H*.3,rx:W*.3,ry:H*.06,fill:'#30c0e0'},g);
      el('rect',{x:L+W*.17,y:T+H*.2,width:W*.05,height:H*.3,fill:'#e02010'},g);
      el('rect',{x:L+W*.8,y:T+H*.15,width:W*.04,height:H*.25,fill:'#e02010'},g);
    }
    const lb=el('text',{x:L+W*.88,y:T+H*.11,"text-anchor":'end',fill:'#fff',"font-size":11,"font-family":'Liberation Sans, sans-serif',"font-weight":'bold'},s);lb.textContent=siLabels[k];
    el('rect',{x:L+W+5,y:T,width:16,height:H,fill:'url(#sig)'},s);
    siTicks.forEach((t,i)=>{const yy=T+H*(0.02+0.46*i);const tx=el('text',{x:L+W+30,y:yy,"font-size":8,"font-family":'Liberation Sans, sans-serif',transform:'rotate(90 '+(L+W+30)+' '+yy+')'},s);tx.textContent=t;});
    const si=el('text',{x:L+W+38,y:T+20,"font-size":7.5,"font-family":'Liberation Sans, sans-serif',transform:'rotate(90 '+(L+W+38)+' '+(T+20)+')'},s);si.textContent='Spectral Index α';
    const yl=el('text',{x:L-44,y:T+H/2,"text-anchor":'middle',"font-size":9,"font-family":'Liberation Sans, sans-serif',transform:'rotate(-90 '+(L-44)+' '+(T+H/2)+')'},s);yl.textContent='Galactic Latitude';
    const xl=el('text',{x:L+W/2,y:T+H+25,"text-anchor":'middle',"font-size":9,"font-family":'Liberation Sans, sans-serif'},s);xl.textContent='Galactic Longitude';
    const lonT=k==0?lon1:lon2, latT=k==0?['−3°30′','−4°','−4°30′','−5°']:['−1°30′','−2°','−2°30′','−3°'];
    lonT.forEach((t,i)=>{const tx=el('text',{x:L+W*(0.06+0.28*i),y:T+H+11,"font-size":8.5,"font-family":'Liberation Sans, sans-serif'},s);tx.textContent=t;});
    latT.forEach((t,i)=>{const tx=el('text',{x:L-3,y:T+H*(0.17+0.27*i)+3,"text-anchor":'end',"font-size":8.5,"font-family":'Liberation Sans, sans-serif'},s);tx.textContent=t;});
  });
})();
</script>
</body></html>
